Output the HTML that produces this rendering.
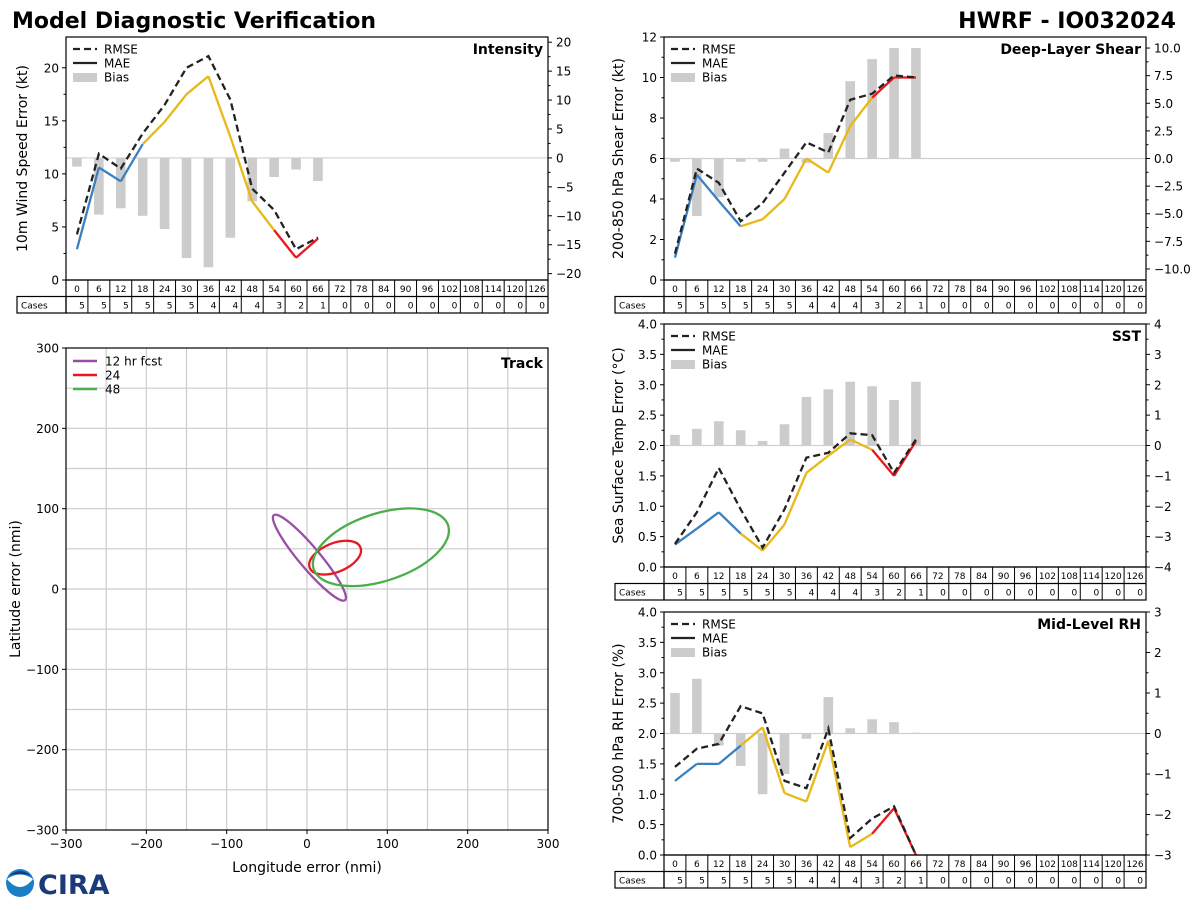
<!DOCTYPE html>
<html><head><meta charset="utf-8"><style>
html,body{margin:0;padding:0;background:#fff;}
svg text{font-family:"DejaVu Sans","Liberation Sans",sans-serif;}
</style></head><body>
<svg id="fig" width="1200" height="900" viewBox="0 0 1200 900" xmlns="http://www.w3.org/2000/svg">
<text x="12" y="28" font-size="22" font-weight="bold">Model Diagnostic Verification</text>
<text x="1176" y="28" font-size="22" font-weight="bold" text-anchor="end">HWRF - IO032024</text>
<g>
<circle cx="20" cy="883" r="14" fill="#1a7fc4"/>
<path d="M7,879 Q20,895 33,879 Q20,870 7,879Z" fill="#fff"/>
<path d="M9,876 Q20,866 31,876 Q20,872 9,876Z" fill="#1b3a7a"/>
<text x="38" y="894" font-size="27" font-weight="bold" fill="#1b3a7a" font-family="Liberation Serif">CIRA</text>
</g>
</svg>
<script>
const hours = [0,6,12,18,24,30,36,42,48,54,60,66,72,78,84,90,96,102,108,114,120,126];
const cases = [5,5,5,5,5,5,4,4,4,3,2,1,0,0,0,0,0,0,0,0,0,0];
const dataHours = [0,6,12,18,24,30,36,42,48,54,60,66];

const intRmse = [4.3,11.9,10.5,13.8,16.5,20.0,21.1,17.0,8.6,6.6,2.9,4.0];
const intMae  = [2.9,10.6,9.3,12.8,14.9,17.5,19.2,13.5,7.4,4.7,2.1,3.9];
const intBias = [-1.5,-9.8,-8.7,-10.0,-12.3,-17.3,-18.9,-13.8,-7.5,-3.3,-2.0,-4.0];
const intLeftTicks = [0,5,10,15,20];
const intRightTicks = [-20,-15,-10,-5,0,5,10,15,20];

const shrRmse = [1.3,5.5,4.8,2.9,3.8,5.3,6.8,6.3,8.9,9.2,10.1,10.0];
const shrMae  = [1.1,5.2,3.9,2.65,3.0,4.0,6.0,5.3,7.6,9.0,10.0,10.0];
const shrBias = [-0.3,-5.2,-3.5,-0.3,-0.3,0.9,-0.4,2.3,7.0,9.0,10.0,10.0];
const shrLeftTicks = [0,2,4,6,8,10,12];
const shrRightTicks = [-10,-7.5,-5,-2.5,0,2.5,5,7.5,10];

const sstRmse = [0.38,0.9,1.63,0.95,0.32,0.95,1.8,1.88,2.2,2.17,1.55,2.1];
const sstMae  = [0.37,0.63,0.9,0.55,0.27,0.7,1.55,1.83,2.1,1.93,1.5,2.07];
const sstBias = [0.35,0.55,0.8,0.5,0.15,0.7,1.6,1.85,2.1,1.95,1.5,2.1];
const sstLeftTicks = [0,0.5,1,1.5,2,2.5,3,3.5,4];
const sstRightTicks = [-4,-3,-2,-1,0,1,2,3,4];

const rhRmse = [1.45,1.75,1.83,2.45,2.33,1.22,1.1,2.08,0.28,0.6,0.8,0.0];
const rhMae  = [1.22,1.5,1.5,1.8,2.1,1.02,0.88,1.88,0.13,0.35,0.77,0.0];
const rhBias = [1.0,1.35,-0.3,-0.8,-1.5,-1.0,-0.13,0.9,0.13,0.35,0.28,0.02];
const rhLeftTicks = [0,0.5,1,1.5,2,2.5,3,3.5,4];
const rhRightTicks = [-3,-2,-1,0,1,2,3];

const trackLabels = ['12 hr fcst','24','48'];
const trackCx = [3,35,92];
const trackCy = [39,39,52];
const trackA = [69,34,88];
const trackB = [13,18,42];
const trackAngle = [-50,22,18];
const trackTicks = [-300,-200,-100,0,100,200,300];

const NS='http://www.w3.org/2000/svg';
const svg=document.getElementById('fig');
function mk(tag,attrs,parent){const e=document.createElementNS(NS,tag);for(const k in attrs)e.setAttribute(k,attrs[k]);(parent||svg).appendChild(e);return e;}
const fmt1=v=>v.toFixed(1).replace('-','\u2212');
const fmt0=v=>String(v).replace('-','\u2212');

function panel(cfg){
  const g=mk('g',{});
  
  
  const L=cfg.x0,R=cfg.x0+482,T=cfg.y0,B=cfg.y0+243;
  const colW=(R-L)/22;
  const xs=h=>L+(h/6+0.5)*colW;
  const yl=v=>B-(v-cfg.lmin)/(cfg.lmax-cfg.lmin)*(B-T);
  const yr=v=>B-(v-cfg.rmin)/(cfg.rmax-cfg.rmin)*(B-T);
  const zl=mk('line',{x1:L,x2:R,y1:yr(0),y2:yr(0),stroke:'#d0d0d0','stroke-width':1.2},g);
  
  
  cfg.bias.forEach((b,i)=>{
    const y0=yr(0),y1=yr(b);
    const r=mk('rect',{x:xs(dataHours[i])-4.8,width:9.6,y:Math.min(y0,y1),height:Math.max(0.8,Math.abs(y1-y0)),fill:'#cccccc'},g);
    
    
  });
  const segColor=h=>h<18?'#3a80c0':(h<54?'#e8b816':'#e8191e');
  for(let i=0;i<cfg.mae.length-1;i++){
    const s=mk('line',{x1:xs(dataHours[i]),y1:yl(cfg.mae[i]),x2:xs(dataHours[i+1]),y2:yl(cfg.mae[i+1]),stroke:segColor(dataHours[i]),'stroke-width':2.3,'stroke-linecap':'butt'},g);
    
    
  }
  const rp=mk('polyline',{points:cfg.rmse.map((v,i)=>xs(dataHours[i])+','+yl(v)).join(' '),fill:'none',stroke:'#222','stroke-width':2.3,'stroke-dasharray':'7,4'},g);
  
  
  const fr=mk('rect',{x:L,y:T,width:R-L,height:B-T,fill:'none',stroke:'#000','stroke-width':1.2},g);
  
  
  cfg.lticks.forEach(v=>{
    mk('line',{x1:L-4,x2:L,y1:yl(v),y2:yl(v),stroke:'#000'},g);
    const t=mk('text',{x:L-7,y:yl(v)+4.5,'font-size':12,'text-anchor':'end'},g);
    t.textContent=cfg.lfmt(v);
    
    
  });
  cfg.rticks.forEach(v=>{
    mk('line',{x1:R,x2:R+4,y1:yr(v),y2:yr(v),stroke:'#000'},g);
    const t=mk('text',{x:R+8,y:yr(v)+4.5,'font-size':12},g);
    t.textContent=cfg.rfmt(v);
    
    
  });
  for(let i=0;i<cfg.rticks.length-1;i++){const m=(cfg.rticks[i]+cfg.rticks[i+1])/2;mk('line',{x1:R,x2:R+2.5,y1:yr(m),y2:yr(m),stroke:'#000'},g);}
  for(let i=0;i<cfg.lticks.length-1;i++){const m=(cfg.lticks[i]+cfg.lticks[i+1])/2;mk('line',{x1:L-2.5,x2:L,y1:yl(m),y2:yl(m),stroke:'#000'},g);}
  const yt=mk('text',{x:0,y:0,'font-size':14,'text-anchor':'middle',transform:`translate(${L-cfg.ylabOff},${(T+B)/2}) rotate(-90)`},g);
  yt.textContent=cfg.ylabel;
  
  
  const tt=mk('text',{x:R-5,y:T+17,'font-size':14,'font-weight':'bold','text-anchor':'end'},g);
  tt.textContent=cfg.title;
  
  
  const lg=mk('g',{},g);
  
  
  const lx=L+7,ly=T+12;
  mk('line',{x1:lx,x2:lx+24,y1:ly,y2:ly,stroke:'#222','stroke-width':2.3,'stroke-dasharray':'7,4'},lg);
  mk('line',{x1:lx,x2:lx+24,y1:ly+14,y2:ly+14,stroke:'#222','stroke-width':2.3},lg);
  mk('rect',{x:lx,y:ly+24,width:24,height:9,fill:'#cccccc'},lg);
  ['RMSE','MAE','Bias'].forEach((s,i)=>{const t=mk('text',{x:lx+31,y:ly+4.5+i*14,'font-size':12},lg);t.textContent=s;});
  const tb=mk('g',{},g);
  
  
  const r1=B,r2=B+16.5,r3=B+33;
  mk('rect',{x:L,y:r1,width:R-L,height:r3-r1,fill:'none',stroke:'#000','stroke-width':1.2},tb);
  mk('rect',{x:L-49,y:r2,width:49,height:r3-r2,fill:'none',stroke:'#000','stroke-width':1.2},tb);
  mk('line',{x1:L,x2:R,y1:r2,y2:r2,stroke:'#000','stroke-width':1.2},tb);
  const ct=mk('text',{x:L-45,y:r2+12,'font-size':9},tb);ct.textContent='Cases';
  hours.forEach((h,i)=>{
    if(i>0)mk('line',{x1:L+i*colW,x2:L+i*colW,y1:r1,y2:r3,stroke:'#000','stroke-width':1},tb);
    const a=mk('text',{x:L+(i+0.5)*colW,y:r1+12,'font-size':9,'text-anchor':'middle'},tb);a.textContent=h;
    const c=mk('text',{x:L+(i+1)*colW-3,y:r2+12,'font-size':9,'text-anchor':'end'},tb);c.textContent=cases[i];
  });
}

panel({name:'intensity',x0:66,y0:37,lmin:0,lmax:22.9,rmin:-21.1,rmax:20.9,rmse:intRmse,mae:intMae,bias:intBias,lticks:intLeftTicks,rticks:intRightTicks,lfmt:fmt0,rfmt:fmt0,ylabel:'10m Wind Speed Error (kt)',ylabOff:39,title:'Intensity'});
panel({name:'shear',x0:664,y0:37,lmin:0,lmax:12,rmin:-11,rmax:11,rmse:shrRmse,mae:shrMae,bias:shrBias,lticks:shrLeftTicks,rticks:shrRightTicks,lfmt:fmt0,rfmt:fmt1,ylabel:'200-850 hPa Shear Error (kt)',ylabOff:41,title:'Deep-Layer Shear'});
panel({name:'sst',x0:664,y0:324,lmin:0,lmax:4,rmin:-4,rmax:4,rmse:sstRmse,mae:sstMae,bias:sstBias,lticks:sstLeftTicks,rticks:sstRightTicks,lfmt:fmt1,rfmt:fmt0,ylabel:'Sea Surface Temp Error (\u00B0C)',ylabOff:41,title:'SST'});
panel({name:'rh',x0:664,y0:612,lmin:0,lmax:4,rmin:-3,rmax:3,rmse:rhRmse,mae:rhMae,bias:rhBias,lticks:rhLeftTicks,rticks:rhRightTicks,lfmt:fmt1,rfmt:fmt0,ylabel:'700-500 hPa RH Error (%)',ylabOff:41,title:'Mid-Level RH'});

(function(){
  const g=mk('g',{});
  
  
  const L=66,R=548,T=348,B=830;
  const xs=v=>L+(v+300)/600*(R-L), ys=v=>B-(v+300)/600*(B-T);
  for(let v=-250;v<=250;v+=50){
    mk('line',{x1:xs(v),x2:xs(v),y1:T,y2:B,stroke:'#cccccc','stroke-width':1.2},g);
    mk('line',{x1:L,x2:R,y1:ys(v),y2:ys(v),stroke:'#cccccc','stroke-width':1.2},g);
  }
  const colors=['#9a4fa6','#e8191e','#4bae4a'];
  trackLabels.forEach((lab,i)=>{
    const sx=(R-L)/600;
    const e=mk('ellipse',{cx:xs(trackCx[i]),cy:ys(trackCy[i]),rx:trackA[i]*sx,ry:trackB[i]*sx,fill:'none',stroke:colors[i],'stroke-width':2.3,transform:`rotate(${-trackAngle[i]} ${xs(trackCx[i])} ${ys(trackCy[i])})`},g);
    
    
    mk('line',{x1:73,x2:97,y1:361+i*14,y2:361+i*14,stroke:colors[i],'stroke-width':2.5},g);
    const t=mk('text',{x:105,y:365.5+i*14,'font-size':12},g);t.textContent=lab;
    
    
  });
  mk('rect',{x:L,y:T,width:R-L,height:B-T,fill:'none',stroke:'#000','stroke-width':1.2},g);
  trackTicks.forEach(v=>{
    mk('line',{x1:xs(v),x2:xs(v),y1:B,y2:B+4,stroke:'#000'},g);
    mk('line',{x1:L-4,x2:L,y1:ys(v),y2:ys(v),stroke:'#000'},g);
    const a=mk('text',{x:xs(v),y:B+18,'font-size':12,'text-anchor':'middle'},g);a.textContent=fmt0(v);
    const b=mk('text',{x:L-7,y:ys(v)+4.5,'font-size':12,'text-anchor':'end'},g);b.textContent=fmt0(v);
  });
  const xt=mk('text',{x:(L+R)/2,y:872,'font-size':14,'text-anchor':'middle'},g);xt.textContent='Longitude error (nmi)';
  
  
  const yt=mk('text',{x:0,y:0,'font-size':14,'text-anchor':'middle',transform:`translate(20,${(T+B)/2}) rotate(-90)`},g);yt.textContent='Latitude error (nmi)';
  
  
  const tt=mk('text',{x:R-5,y:T+20,'font-size':14,'font-weight':'bold','text-anchor':'end'},g);tt.textContent='Track';
  
  
})();
</script>
</body></html>
